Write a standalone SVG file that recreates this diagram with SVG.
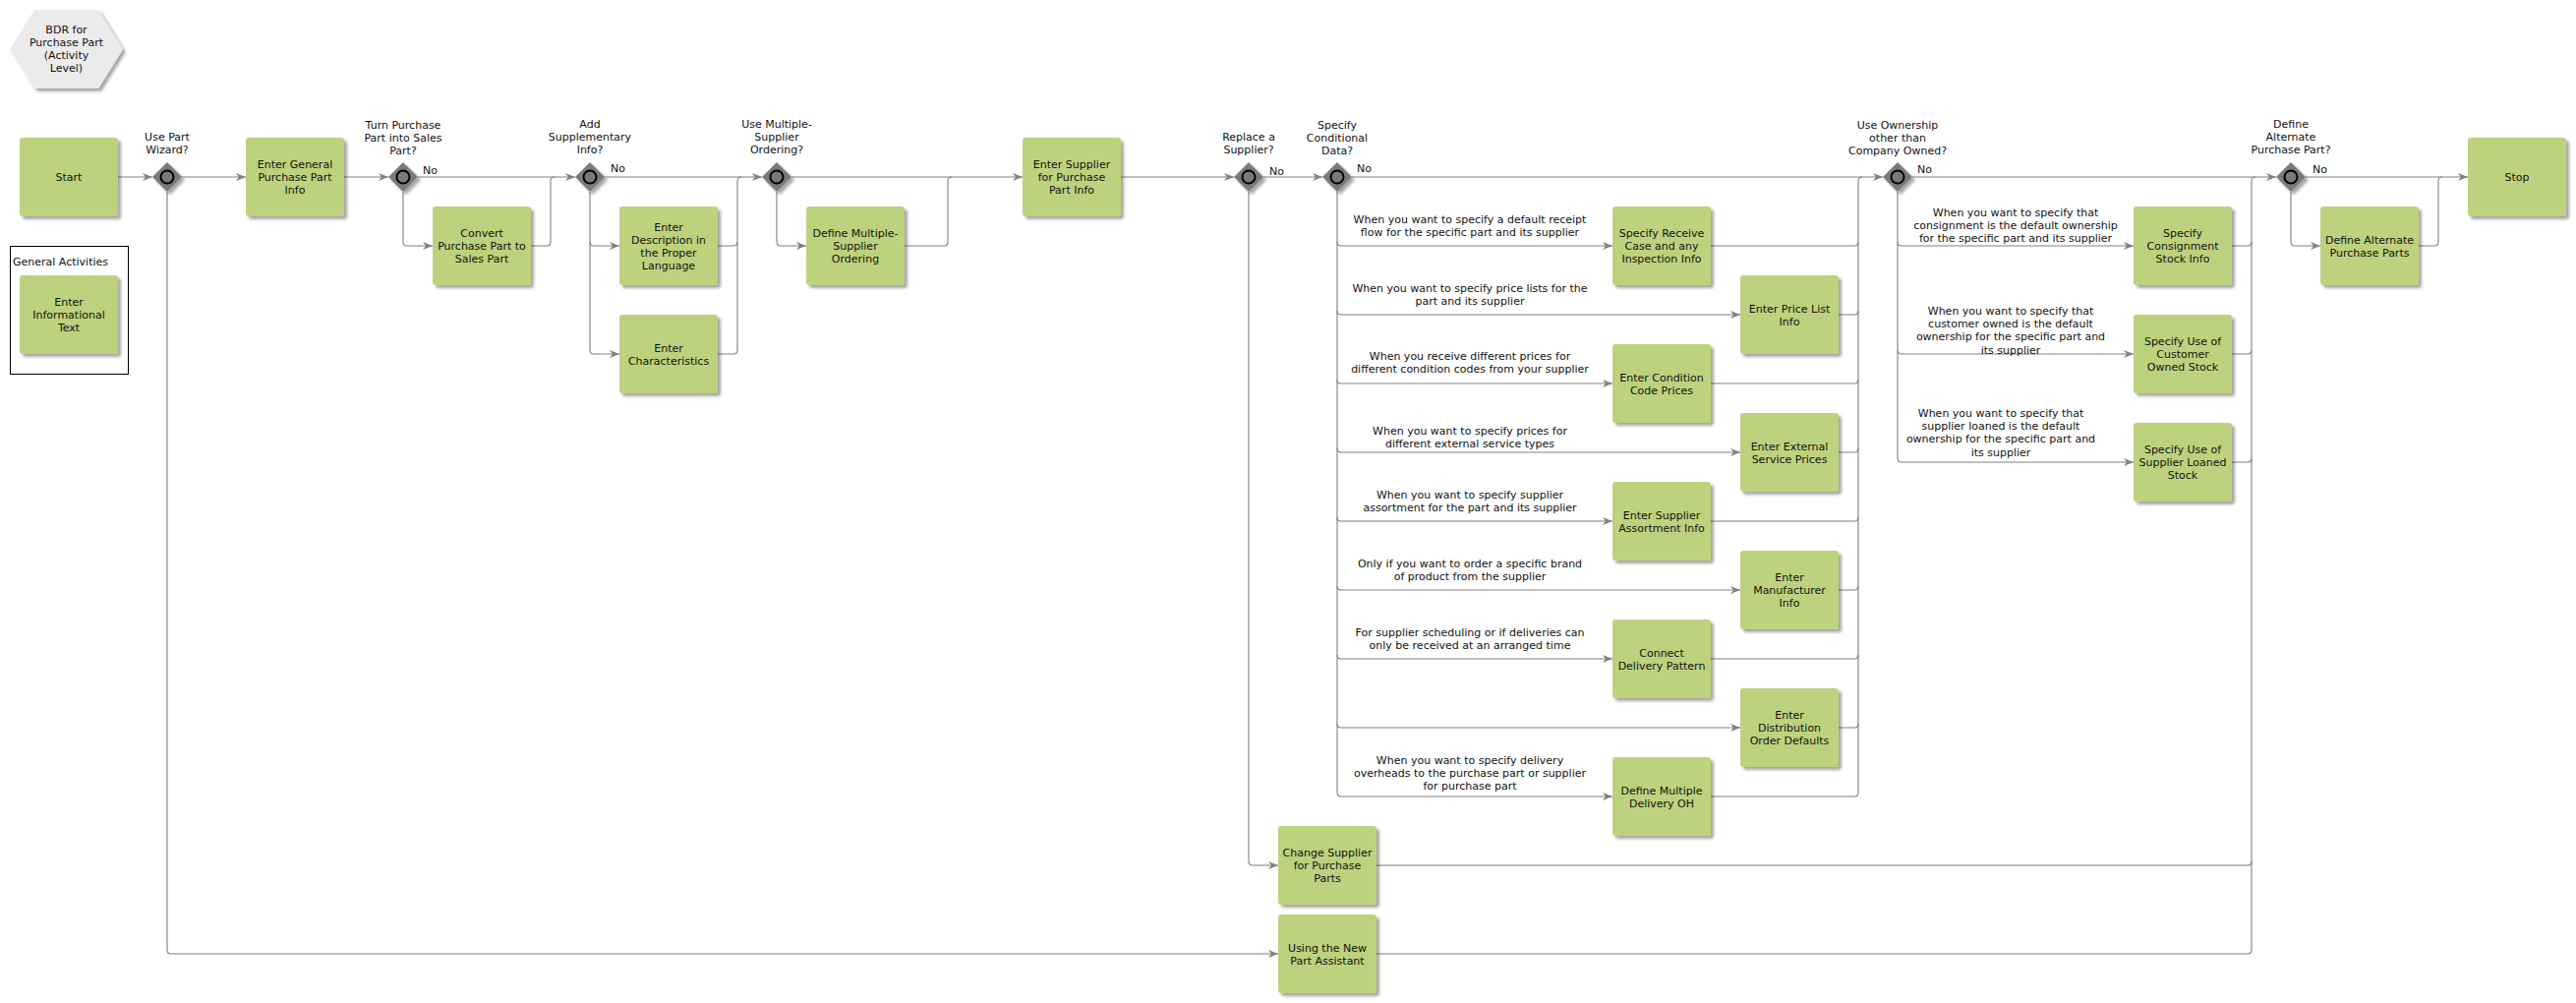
<svg xmlns="http://www.w3.org/2000/svg" xmlns:xlink="http://www.w3.org/1999/xlink" width="2620" height="1020" viewBox="0 0 2620 1020">
<style>
.box{fill:#bdd27d;filter:url(#sh)}
.t{font-family:"DejaVu Sans",Verdana,sans-serif;font-size:11px;fill:#111;text-anchor:middle}
.l{font-family:"DejaVu Sans",Verdana,sans-serif;font-size:11px;fill:#111}
.c{fill:none;stroke:#808080;stroke-width:1.1}
.a{marker-end:url(#arr)}
</style>
<defs>
<filter id="sh" x="-20%" y="-20%" width="150%" height="150%">
<feDropShadow dx="3" dy="3" stdDeviation="1.6" flood-color="#000" flood-opacity="0.35"/>
</filter>
<marker id="arr" markerUnits="userSpaceOnUse" markerWidth="10" markerHeight="10" refX="10" refY="5" orient="auto" viewBox="0 0 10 10">
<path d="M0,1 L10,5 L0,9 L3,5 z" fill="#808080"/>
</marker>
<g id="gw">
<polygon points="0,-15 15,0 0,15 -15,0" fill="#7a7a7a" filter="url(#sh)"/>
<circle r="6.5" fill="#7a7a7a" stroke="#000" stroke-width="2"/>
</g>
</defs>
<rect width="2620" height="1020" fill="#fff"/>

<g id="title">
<polygon points="10,50 35,10 100,10 125,50 100,90 35,90" fill="#ebebeb" filter="url(#sh)"/>
<text class="t" x="67.5" y="34">BDR for</text>
<text class="t" x="67.5" y="47">Purchase Part</text>
<text class="t" x="67.5" y="60">(Activity</text>
<text class="t" x="67.5" y="73">Level)</text>
</g>

<g id="connectors">
<path class="c a" d="M120,180 H155"/>
<path class="c a" d="M185,180 H250"/>
<path class="c a" d="M350,180 H395"/>
<path class="c a" d="M425,180 H585"/>
<path class="c a" d="M615,180 H775"/>
<path class="c a" d="M805,180 H1040"/>
<path class="c a" d="M1140,180 H1255"/>
<path class="c a" d="M1285,180 H1345"/>
<path class="c a" d="M1375,180 H1915"/>
<path class="c a" d="M1945,180 H2315"/>
<path class="c a" d="M2345,180 H2510"/>

<path class="c a" d="M170,195 V966 Q170,970 174,970 H1300"/>
<path class="c a" d="M410,195 V246 Q410,250 414,250 H440"/>
<path class="c" d="M540,250 H556 Q560,250 560,246 V184 Q560,180 564,180"/>
<path class="c a" d="M600,195 V246 Q600,250 604,250 H630"/>
<path class="c a" d="M600,246 V356 Q600,360 604,360 H630"/>
<path class="c" d="M730,250 H746 Q750,250 750,246 V184 Q750,180 754,180"/>
<path class="c" d="M730,360 H746 Q750,360 750,356 V246"/>
<path class="c a" d="M790,195 V246 Q790,250 794,250 H820"/>
<path class="c" d="M920,250 H960 Q964,250 964,246 V184 Q964,180 968,180"/>
<path class="c a" d="M1270,195 V876 Q1270,880 1274,880 H1300"/>
<path class="c" d="M1400,880 H2286 Q2290,880 2290,876 V184 Q2290,180 2294,180"/>
<path class="c" d="M1400,970 H2286 Q2290,970 2290,966 V876"/>

<path class="c a" d="M1360,195 V806 Q1360,810 1364,810 H1640"/>
<path class="c a" d="M1360,246 Q1360,250 1364,250 H1640"/>
<path class="c a" d="M1360,316 Q1360,320 1364,320 H1770"/>
<path class="c a" d="M1360,386 Q1360,390 1364,390 H1640"/>
<path class="c a" d="M1360,456 Q1360,460 1364,460 H1770"/>
<path class="c a" d="M1360,526 Q1360,530 1364,530 H1640"/>
<path class="c a" d="M1360,596 Q1360,600 1364,600 H1770"/>
<path class="c a" d="M1360,666 Q1360,670 1364,670 H1640"/>
<path class="c a" d="M1360,736 Q1360,740 1364,740 H1770"/>
<path class="c" d="M1740,810 H1886 Q1890,810 1890,806 V184 Q1890,180 1894,180"/>
<path class="c" d="M1740,250 H1886 Q1890,250 1890,246"/>
<path class="c" d="M1870,320 H1886 Q1890,320 1890,316"/>
<path class="c" d="M1740,390 H1886 Q1890,390 1890,386"/>
<path class="c" d="M1870,460 H1886 Q1890,460 1890,456"/>
<path class="c" d="M1740,530 H1886 Q1890,530 1890,526"/>
<path class="c" d="M1870,600 H1886 Q1890,600 1890,596"/>
<path class="c" d="M1740,670 H1886 Q1890,670 1890,666"/>
<path class="c" d="M1870,740 H1886 Q1890,740 1890,736"/>

<path class="c a" d="M1930,195 V466 Q1930,470 1934,470 H2170"/>
<path class="c a" d="M1930,246 Q1930,250 1934,250 H2170"/>
<path class="c a" d="M1930,356 Q1930,360 1934,360 H2170"/>
<path class="c" d="M2270,250 H2286 Q2290,250 2290,246"/>
<path class="c" d="M2270,360 H2286 Q2290,360 2290,356"/>
<path class="c" d="M2270,470 H2286 Q2290,470 2290,466"/>

<path class="c a" d="M2330,195 V246 Q2330,250 2334,250 H2360"/>
<path class="c" d="M2460,250 H2476 Q2480,250 2480,246 V184 Q2480,180 2484,180"/>

<g id="edge-labels">
<text class="l" x="430" y="177">No</text>
<text class="l" x="621" y="175">No</text>
<text class="l" x="1291" y="178">No</text>
<text class="l" x="1380" y="175">No</text>
<text class="l" x="1950" y="176">No</text>
<text class="l" x="2352" y="176">No</text>

<text class="t" x="1495" y="227">When you want to specify a default receipt</text>
<text class="t" x="1495" y="240">flow for the specific part and its supplier</text>
<text class="t" x="1495" y="297">When you want to specify price lists for the</text>
<text class="t" x="1495" y="310">part and its supplier</text>
<text class="t" x="1495" y="366">When you receive different prices for</text>
<text class="t" x="1495" y="379">different condition codes from your supplier</text>
<text class="t" x="1495" y="442">When you want to specify prices for</text>
<text class="t" x="1495" y="455">different external service types</text>
<text class="t" x="1495" y="507">When you want to specify supplier</text>
<text class="t" x="1495" y="520">assortment for the part and its supplier</text>
<text class="t" x="1495" y="577">Only if you want to order a specific brand</text>
<text class="t" x="1495" y="590">of product from the supplier</text>
<text class="t" x="1495" y="647">For supplier scheduling or if deliveries can</text>
<text class="t" x="1495" y="660">only be received at an arranged time</text>
<text class="t" x="1495" y="777">When you want to specify delivery</text>
<text class="t" x="1495" y="790">overheads to the purchase part or supplier</text>
<text class="t" x="1495" y="803">for purchase part</text>

<text class="t" x="2050" y="220">When you want to specify that</text>
<text class="t" x="2050" y="233">consignment is the default ownership</text>
<text class="t" x="2050" y="246">for the specific part and its supplier</text>
<text class="t" x="2045" y="320">When you want to specify that</text>
<text class="t" x="2045" y="333">customer owned is the default</text>
<text class="t" x="2045" y="346">ownership for the specific part and</text>
<text class="t" x="2045" y="360">its supplier</text>
<text class="t" x="2035" y="424">When you want to specify that</text>
<text class="t" x="2035" y="437">supplier loaned is the default</text>
<text class="t" x="2035" y="450">ownership for the specific part and</text>
<text class="t" x="2035" y="464">its supplier</text>
</g>
</g>

<g id="gw-wizard"><use xlink:href="#gw" x="170" y="180"/>
<text class="t" x="170" y="143">Use Part</text><text class="t" x="170" y="156">Wizard?</text></g>
<g id="gw-sales"><use xlink:href="#gw" x="410" y="180"/>
<text class="t" x="410" y="131">Turn Purchase</text><text class="t" x="410" y="144">Part into Sales</text><text class="t" x="410" y="157">Part?</text></g>
<g id="gw-supp"><use xlink:href="#gw" x="600" y="180"/>
<text class="t" x="600" y="130">Add</text><text class="t" x="600" y="143">Supplementary</text><text class="t" x="600" y="156">Info?</text></g>
<g id="gw-multi"><use xlink:href="#gw" x="790" y="180"/>
<text class="t" x="790" y="130">Use Multiple-</text><text class="t" x="790" y="143">Supplier</text><text class="t" x="790" y="156">Ordering?</text></g>
<g id="gw-replace"><use xlink:href="#gw" x="1270" y="180"/>
<text class="t" x="1270" y="143">Replace a</text><text class="t" x="1270" y="156">Supplier?</text></g>
<g id="gw-cond"><use xlink:href="#gw" x="1360" y="180"/>
<text class="t" x="1360" y="131">Specify</text><text class="t" x="1360" y="144">Conditional</text><text class="t" x="1360" y="157">Data?</text></g>
<g id="gw-own"><use xlink:href="#gw" x="1930" y="180"/>
<text class="t" x="1930" y="131">Use Ownership</text><text class="t" x="1930" y="144">other than</text><text class="t" x="1930" y="157">Company Owned?</text></g>
<g id="gw-alt"><use xlink:href="#gw" x="2330" y="180"/>
<text class="t" x="2330" y="130">Define</text><text class="t" x="2330" y="143">Alternate</text><text class="t" x="2330" y="156">Purchase Part?</text></g>

<g id="start"><rect class="box" x="20" y="140" width="100" height="80" rx="3"/>
<text class="t" x="70" y="184">Start</text></g>
<g id="egppi"><rect class="box" x="250" y="140" width="100" height="80" rx="3"/>
<text class="t" x="300" y="171">Enter General</text><text class="t" x="300" y="184">Purchase Part</text><text class="t" x="300" y="197">Info</text></g>
<g id="convert"><rect class="box" x="440" y="210" width="100" height="80" rx="3"/>
<text class="t" x="490" y="241">Convert</text><text class="t" x="490" y="254">Purchase Part to</text><text class="t" x="490" y="267">Sales Part</text></g>
<g id="desc"><rect class="box" x="630" y="210" width="100" height="80" rx="3"/>
<text class="t" x="680" y="234.5">Enter</text><text class="t" x="680" y="247.5">Description in</text><text class="t" x="680" y="260.5">the Proper</text><text class="t" x="680" y="273.5">Language</text></g>
<g id="char"><rect class="box" x="630" y="320" width="100" height="80" rx="3"/>
<text class="t" x="680" y="357.5">Enter</text><text class="t" x="680" y="370.5">Characteristics</text></g>
<g id="dmso"><rect class="box" x="820" y="210" width="100" height="80" rx="3"/>
<text class="t" x="870" y="241">Define Multiple-</text><text class="t" x="870" y="254">Supplier</text><text class="t" x="870" y="267">Ordering</text></g>
<g id="esppi"><rect class="box" x="1040" y="140" width="100" height="80" rx="3"/>
<text class="t" x="1090" y="171">Enter Supplier</text><text class="t" x="1090" y="184">for Purchase</text><text class="t" x="1090" y="197">Part Info</text></g>
<g id="src"><rect class="box" x="1640" y="210" width="100" height="80" rx="3"/>
<text class="t" x="1690" y="241">Specify Receive</text><text class="t" x="1690" y="254">Case and any</text><text class="t" x="1690" y="267">Inspection Info</text></g>
<g id="epl"><rect class="box" x="1770" y="280" width="100" height="80" rx="3"/>
<text class="t" x="1820" y="317.5">Enter Price List</text><text class="t" x="1820" y="330.5">Info</text></g>
<g id="ecc"><rect class="box" x="1640" y="350" width="100" height="80" rx="3"/>
<text class="t" x="1690" y="387.5">Enter Condition</text><text class="t" x="1690" y="400.5">Code Prices</text></g>
<g id="ees"><rect class="box" x="1770" y="420" width="100" height="80" rx="3"/>
<text class="t" x="1820" y="457.5">Enter External</text><text class="t" x="1820" y="470.5">Service Prices</text></g>
<g id="esa"><rect class="box" x="1640" y="490" width="100" height="80" rx="3"/>
<text class="t" x="1690" y="527.5">Enter Supplier</text><text class="t" x="1690" y="540.5">Assortment Info</text></g>
<g id="emi"><rect class="box" x="1770" y="560" width="100" height="80" rx="3"/>
<text class="t" x="1820" y="591">Enter</text><text class="t" x="1820" y="604">Manufacturer</text><text class="t" x="1820" y="617">Info</text></g>
<g id="cdp"><rect class="box" x="1640" y="630" width="100" height="80" rx="3"/>
<text class="t" x="1690" y="667.5">Connect</text><text class="t" x="1690" y="680.5">Delivery Pattern</text></g>
<g id="edod"><rect class="box" x="1770" y="700" width="100" height="80" rx="3"/>
<text class="t" x="1820" y="731">Enter</text><text class="t" x="1820" y="744">Distribution</text><text class="t" x="1820" y="757">Order Defaults</text></g>
<g id="dmdoh"><rect class="box" x="1640" y="770" width="100" height="80" rx="3"/>
<text class="t" x="1690" y="807.5">Define Multiple</text><text class="t" x="1690" y="820.5">Delivery OH</text></g>
<g id="csfpp"><rect class="box" x="1300" y="840" width="100" height="80" rx="3"/>
<text class="t" x="1350" y="871">Change Supplier</text><text class="t" x="1350" y="884">for Purchase</text><text class="t" x="1350" y="897">Parts</text></g>
<g id="unpa"><rect class="box" x="1300" y="930" width="100" height="80" rx="3"/>
<text class="t" x="1350" y="967.5">Using the New</text><text class="t" x="1350" y="980.5">Part Assistant</text></g>
<g id="scsi"><rect class="box" x="2170" y="210" width="100" height="80" rx="3"/>
<text class="t" x="2220" y="241">Specify</text><text class="t" x="2220" y="254">Consignment</text><text class="t" x="2220" y="267">Stock Info</text></g>
<g id="sucos"><rect class="box" x="2170" y="320" width="100" height="80" rx="3"/>
<text class="t" x="2220" y="351">Specify Use of</text><text class="t" x="2220" y="364">Customer</text><text class="t" x="2220" y="377">Owned Stock</text></g>
<g id="susls"><rect class="box" x="2170" y="430" width="100" height="80" rx="3"/>
<text class="t" x="2220" y="461">Specify Use of</text><text class="t" x="2220" y="474">Supplier Loaned</text><text class="t" x="2220" y="487">Stock</text></g>
<g id="dapp"><rect class="box" x="2360" y="210" width="100" height="80" rx="3"/>
<text class="t" x="2410" y="247.5">Define Alternate</text><text class="t" x="2410" y="260.5">Purchase Parts</text></g>
<g id="stop"><rect class="box" x="2510" y="140" width="100" height="80" rx="3"/>
<text class="t" x="2560" y="184">Stop</text></g>

<g id="general-activities">
<rect x="10.5" y="250.5" width="120" height="130" fill="none" stroke="#000" stroke-width="1"/>
<text class="l" x="13" y="270">General Activities</text>
<g id="eit"><rect class="box" x="20" y="280" width="100" height="80" rx="3"/>
<text class="t" x="70" y="311">Enter</text><text class="t" x="70" y="324">Informational</text><text class="t" x="70" y="337">Text</text></g>
</g>
</svg>
